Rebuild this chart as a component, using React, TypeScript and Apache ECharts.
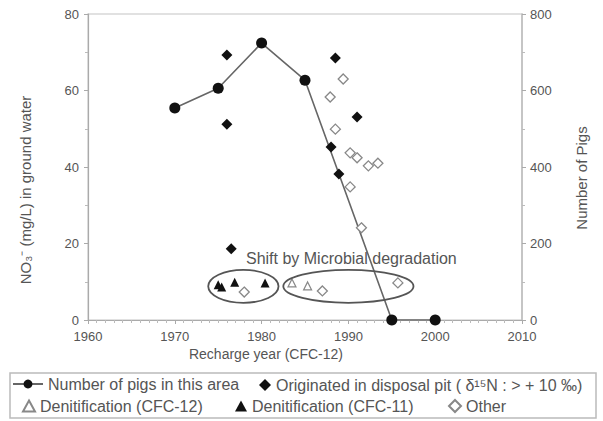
import React, { useEffect, useRef } from "react";
import * as echarts from "echarts";

const pigYears = [1970, 1975, 1980, 1985, 1995, 2000];
const pigCounts = [554, 606, 724, 627, 0, 0];

const pitYears = [1976.0, 1976.0, 1976.5, 1988.5, 1991.0, 1988.0, 1988.9];
const pitNO3 = [69.3, 51.2, 18.6, 68.5, 53.1, 45.2, 38.2];

const cfc12Years = [1983.5, 1985.3];
const cfc12NO3 = [9.7, 8.9];

const cfc11Years = [1975.0, 1975.4, 1976.9, 1980.4];
const cfc11NO3 = [9.2, 8.6, 9.9, 9.7];

const otherYears = [1989.4, 1987.9, 1988.5, 1990.2, 1991.0, 1992.3, 1993.4, 1990.2, 1991.5, 1978.0, 1987.0, 1995.7];
const otherNO3 = [63.0, 58.3, 49.9, 43.7, 42.4, 40.3, 41.0, 34.8, 24.1, 7.3, 7.6, 9.7];

// annotation ellipses in data units: [centerYear, centerNO3, radiusYears, radiusNO3]
const ellipses = [
  [1977.9, 8.8, 4.05, 4.3],
  [1990.0, 8.8, 7.5, 4.3],
];
const annotationText = "Shift by Microbial degradation";

const S_PIG = "Number of pigs in this area";
const S_PIT = "Originated in disposal pit ( δ¹⁵N : > + 10 ‰)";
const S_C12 = "Denitification (CFC-12)";
const S_C11 = "Denitification (CFC-11)";
const S_OTH = "Other";

const zip = (a: number[], b: number[]) => a.map((v, i) => [v, b[i]]);

const FONT = "Liberation Sans, Arial, sans-serif";
const TXT = "#555";

export default function App() {
  const ref = useRef<HTMLDivElement>(null);
  useEffect(() => {
    if (!ref.current) return;
    const chart = echarts.init(ref.current, null, { renderer: "svg" });
    const legendText = { fontFamily: FONT, fontSize: 16, color: TXT };
    const option: any = {
      animation: false,
      textStyle: { fontFamily: FONT },
      grid: { left: 88, right: 81, top: 14, bottom: 101, show: true, borderColor: "#d8d8d8", borderWidth: 1.5 },
      xAxis: {
        type: "value",
        min: 1960,
        max: 2010,
        interval: 10,
        axisLine: { show: true, lineStyle: { color: "#aaa", width: 1.2 } },
        axisTick: { show: true, length: 4, lineStyle: { color: "#aaa" } },
        minorTick: { show: true, splitNumber: 10, length: 3, lineStyle: { color: "#bbb" } },
        splitLine: { show: false },
        axisLabel: { color: TXT, fontSize: 13, fontFamily: FONT, margin: 10, formatter: (v: number) => String(v) },
      },
      yAxis: [
        {
          type: "value",
          min: 0,
          max: 80,
          interval: 20,
          axisLine: { show: true, lineStyle: { color: "#aaa", width: 1.2 } },
          axisTick: { show: true, length: 4, lineStyle: { color: "#aaa" } },
          minorTick: { show: true, splitNumber: 2, length: 3, lineStyle: { color: "#bbb" } },
          splitLine: { show: false },
          axisLabel: { color: TXT, fontSize: 13, fontFamily: FONT, margin: 9 },
        },
        {
          type: "value",
          min: 0,
          max: 800,
          interval: 200,
          position: "right",
          name: "Number of Pigs",
          nameLocation: "middle",
          nameRotate: 90,
          nameGap: 52,
          nameTextStyle: { color: TXT, fontSize: 15, fontFamily: FONT, padding: [0, 0, 0, -22] },
          axisLine: { show: true, lineStyle: { color: "#bbb", width: 1.5 } },
          axisTick: { show: true, length: 4, lineStyle: { color: "#aaa" } },
          minorTick: { show: true, splitNumber: 2, length: 3, lineStyle: { color: "#bbb" } },
          splitLine: { show: false },
          axisLabel: { color: TXT, fontSize: 13, fontFamily: FONT, margin: 8 },
        },
      ],
      legend: [
        { data: [S_PIG], left: 12, top: 376, itemWidth: 30, itemHeight: 11, textStyle: legendText, padding: 0 },
        { data: [S_PIT], left: 259, top: 377, itemWidth: 12, itemHeight: 12, textStyle: legendText, padding: 0 },
        { data: [S_C12], left: 22, top: 398, itemWidth: 12, itemHeight: 11, textStyle: legendText, padding: 0 },
        { data: [S_C11], left: 235, top: 398, itemWidth: 12, itemHeight: 11, textStyle: legendText, padding: 0 },
        { data: [S_OTH], left: 448, top: 398, itemWidth: 12, itemHeight: 12, textStyle: legendText, padding: 0 },
      ],
      series: [
        {
          name: S_PIG,
          type: "line",
          yAxisIndex: 1,
          data: zip(pigYears, pigCounts),
          symbol: "circle",
          symbolSize: 11,
          itemStyle: { color: "#111", opacity: 1 },
          lineStyle: { color: "#666", width: 1.6 },
          z: 3,
        },
        {
          name: S_PIT,
          type: "scatter",
          data: zip(pitYears, pitNO3),
          symbol: "diamond",
          symbolSize: 11,
          itemStyle: { color: "#111", opacity: 1 },
          z: 4,
        },
        {
          name: S_C12,
          type: "scatter",
          data: zip(cfc12Years, cfc12NO3),
          symbol: "triangle",
          symbolSize: 8,
          itemStyle: { color: "#fff", borderColor: "#888", borderWidth: 1.2, opacity: 1 },
          z: 4,
        },
        {
          name: S_C11,
          type: "scatter",
          data: zip(cfc11Years, cfc11NO3),
          symbol: "triangle",
          symbolSize: 9,
          itemStyle: { color: "#111", opacity: 1 },
          z: 4,
        },
        {
          name: S_OTH,
          type: "scatter",
          data: zip(otherYears, otherNO3),
          symbol: "diamond",
          symbolSize: 10,
          itemStyle: { color: "#fff", borderColor: "#888", borderWidth: 1.3, opacity: 1 },
          z: 4,
        },
      ],
    };
    chart.setOption(option);

    const toPx = (x: number, y: number) => chart.convertToPixel({ xAxisIndex: 0, yAxisIndex: 0 }, [x, y]) as number[];
    const graphics: any[] = [];
    ellipses.forEach(([cx, cy, rx, ry]) => {
      const c = toPx(cx, cy);
      const e = toPx(cx + rx, cy + ry);
      graphics.push({
        type: "ellipse",
        shape: { cx: c[0], cy: c[1], rx: Math.abs(e[0] - c[0]), ry: Math.abs(c[1] - e[1]) },
        style: { fill: "none", stroke: "#555", lineWidth: 1.8 },
        z: 10,
      });
    });
    const tPos = toPx(ellipses[0][0] + 0.3, ellipses[0][1] + 7.4);
    graphics.push({
      type: "text",
      x: tPos[0],
      y: tPos[1],
      style: { text: annotationText, fontSize: 16, fontFamily: FONT, fill: "#555", textAlign: "left", textVerticalAlign: "middle" },
      z: 11,
    });
    graphics.push({
      type: "text",
      x: 25,
      y: 190,
      rotation: Math.PI / 2,
      style: { text: "NO₃⁻ (mg/L) in ground water", fontSize: 15, fontFamily: FONT, fill: TXT, textAlign: "center", textVerticalAlign: "middle" },
    });
    graphics.push({
      type: "text",
      x: 266,
      y: 354,
      style: { text: "Recharge year (CFC-12)", fontSize: 14, fontFamily: FONT, fill: TXT, textAlign: "center", textVerticalAlign: "middle" },
    });
    graphics.push({
      type: "rect",
      shape: { x: 10, y: 373, width: 586, height: 45 },
      style: { fill: "none", stroke: "#bbb", lineWidth: 1.5 },
      z: -1,
    });
    chart.setOption({ graphic: graphics });

    return () => chart.dispose();
  }, []);
  return <div ref={ref} style={{ position: "fixed", left: 0, top: 0, width: 603, height: 421, background: "#fff" }} />;
}
